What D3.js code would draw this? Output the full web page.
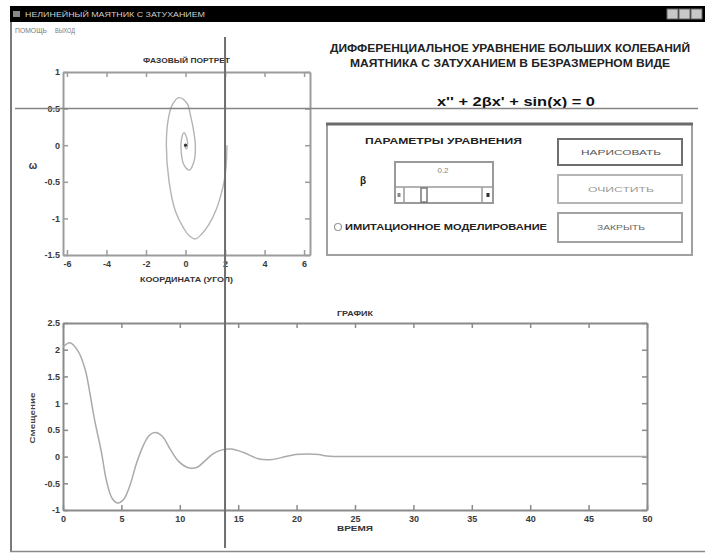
<!DOCTYPE html>
<html>
<head>
<meta charset="utf-8">
<script src="https://cdn.jsdelivr.net/npm/d3@7"></script>
<style>
	body { margin: 0; background: #fff; }
	svg { display: block; font-family: 'Liberation Sans', Arial, sans-serif; }
	.axis path, .axis line { stroke: #9c9c9c; }
	.axis path { stroke-width: 2; }
	.axis line { stroke-width: 1.5; }
	.axis text { font-size: 9px; font-weight: bold; fill: #3a3a3a; }
	.time .axis path, .time .axis line { stroke: #8a8a8a; }
</style>
</head>
<body>
<script>
// phase portrait (angle, angular velocity)
var phaseX = [2.1, 2.05, 1.95, 1.83, 1.58, 1.17, 0.8, 0.5, 0.2, -0.08, -0.5, -0.83, -0.97, -0.87, -0.67, -0.33, 0.08, 0.25, 0.42, 0.5, 0.42, 0.2, -0.08, -0.22, -0.2, -0.08, 0.06, 0.1, 0.04, -0.02, 0];
var phaseV = [0, -0.3, -0.5, -0.64, -0.86, -1.09, -1.22, -1.28, -1.24, -1.14, -0.91, -0.5, 0, 0.36, 0.55, 0.65, 0.57, 0.41, 0.18, -0.02, -0.23, -0.34, -0.27, -0.09, 0.09, 0.17, 0.1, 0, -0.05, -0.02, 0];

// displacement vs time
var timeT = [0, 0.6, 1.3, 1.9, 2.3, 2.7, 3.3, 3.7, 4.2, 4.7, 5.2, 5.7, 6.3, 6.9, 7.4, 7.9, 8.5, 9.2, 9.9, 10.6, 11.0, 11.5, 12.2, 12.9, 13.7, 14.4, 15.4, 16.7, 17.7, 18.7, 19.9, 21.0, 21.9, 22.6, 25, 30, 35, 40, 45, 50];
var timeX = [2.05, 2.13, 1.97, 1.63, 1.19, 0.69, 0.07, -0.43, -0.78, -0.87, -0.8, -0.56, -0.12, 0.22, 0.4, 0.45, 0.38, 0.13, -0.09, -0.2, -0.22, -0.2, -0.07, 0.06, 0.13, 0.14, 0.08, -0.04, -0.06, -0.02, 0.04, 0.05, 0.04, 0.01, 0, 0, 0, 0, 0, 0];

// tick labels
var phaseXTicks = [-6, -4, -2, 0, 2, 4, 6];
var phaseYTicks = [1, 0.5, 0, -0.5, -1, -1.5];
var timeXTicks = [0, 5, 10, 15, 20, 25, 30, 35, 40, 45, 50];
var timeYTicks = [2.5, 2, 1.5, 1, 0.5, 0, -0.5, -1];

// texts
var windowTitle = 'НЕЛИНЕЙНЫЙ МАЯТНИК С ЗАТУХАНИЕМ';
var menuItems = ['ПОМОЩЬ', 'ВЫХОД'];
var headLines = ['ДИФФЕРЕНЦИАЛЬНОЕ УРАВНЕНИЕ БОЛЬШИХ КОЛЕБАНИЙ', 'МАЯТНИКА С ЗАТУХАНИЕМ В БЕЗРАЗМЕРНОМ ВИДЕ'];
var equation = 'x\'\' + 2βx\' + sin(x) = 0';
var buttonLabels = ['НАРИСОВАТЬ', 'ОЧИСТИТЬ', 'ЗАКРЫТЬ'];
var betaValue = '0.2';

function PendulumWindow() {
	this.chart = {};
	this.props = {};
	this.props.width = 705;
	this.props.height = 553;
	this.props.phase = { left: 63, right: 310, top: 72, bottom: 255, xDomain: [-6.2, 6.3], yDomain: [-1.5, 1] };
	this.props.time = { left: 63, right: 647, top: 323, bottom: 510, xDomain: [0, 50], yDomain: [-1, 2.5] };
	this.props.tick = 5;
}

PendulumWindow.prototype.createChart = function() {
	this.chart.svg = d3.select('body')
		.append('svg')
			.attr('width', this.props.width)
			.attr('height', this.props.height);
	return this.chart;
}

// small helper for text that has to fill a given width
PendulumWindow.prototype.label = function(g, str, x, y, o) {
	o = o || {};
	var t = g.append('text')
		.attr('x', x)
		.attr('y', y)
		.attr('text-anchor', o.anchor || 'middle')
		.attr('dominant-baseline', 'central')
		.style('font-size', (o.size || 9) + 'px')
		.style('font-weight', o.weight || 'bold')
		.style('fill', o.fill || '#333')
		.text(str);
	if (o.width) {
		t.attr('textLength', o.width).attr('lengthAdjust', 'spacingAndGlyphs');
	}
	if (o.rotate) {
		t.attr('transform', 'rotate(-90,' + x + ',' + y + ')');
	}
	return t;
}

PendulumWindow.prototype.addFrame = function() {
	var svg = this.chart.svg;
	svg.append('rect').attr('x', 10).attr('y', 6).attr('width', 695).attr('height', 16).attr('fill', '#000');
	svg.append('rect').attr('x', 13).attr('y', 11).attr('width', 7).attr('height', 6).attr('fill', '#888');
	this.label(svg, windowTitle, 25, 14.5, { anchor: 'start', size: 8, weight: 'normal', fill: '#cfcfcf', width: 180 });
	[667, 679, 691].forEach(function(x) {
		svg.append('rect').attr('x', x).attr('y', 9).attr('width', 11).attr('height', 10).attr('fill', '#c8c8c8').attr('stroke', '#666');
	});
	svg.append('line').attr('x1', 11).attr('x2', 11).attr('y1', 22).attr('y2', 552).attr('stroke', '#7a7a7a').attr('stroke-width', 2);
	svg.append('line').attr('x1', 10).attr('x2', 705).attr('y1', 551.5).attr('y2', 551.5).attr('stroke', '#8a8a8a').attr('stroke-width', 1.5);
	this.label(svg, menuItems[0], 15, 30, { anchor: 'start', size: 7, weight: 'normal', fill: '#777', width: 32 });
	this.label(svg, menuItems[1], 55, 30, { anchor: 'start', size: 7, weight: 'normal', fill: '#777', width: 20 });
}

PendulumWindow.prototype.addAxes = function(g, box, xTicks, yTicks) {
	var fmt = function(d) { return String(d); };
	var x = d3.scaleLinear().domain(box.xDomain).range([box.left, box.right]);
	var y = d3.scaleLinear().domain(box.yDomain).range([box.bottom, box.top]);
	var t = this.props.tick;
	g.append('g').attr('class', 'axis').attr('transform', 'translate(0,' + box.bottom + ')')
		.call(d3.axisBottom(x).tickValues(xTicks).tickFormat(fmt).tickSizeInner(-t).tickSizeOuter(0).tickPadding(6));
	g.append('g').attr('class', 'axis').attr('transform', 'translate(0,' + box.top + ')')
		.call(d3.axisTop(x).tickValues(xTicks).tickFormat('').tickSizeInner(-t).tickSizeOuter(0));
	g.append('g').attr('class', 'axis').attr('transform', 'translate(' + box.left + ',0)')
		.call(d3.axisLeft(y).tickValues(yTicks).tickFormat(fmt).tickSizeInner(-t).tickSizeOuter(0).tickPadding(3));
	g.append('g').attr('class', 'axis').attr('transform', 'translate(' + box.right + ',0)')
		.call(d3.axisRight(y).tickValues(yTicks).tickFormat('').tickSizeInner(-t).tickSizeOuter(0));
	return { x: x, y: y };
}

PendulumWindow.prototype.addPhasePlot = function() {
	var g = this.chart.svg.append('g').attr('class', 'phase');
	var s = this.addAxes(g, this.props.phase, phaseXTicks, phaseYTicks);
	this.chart.phase = s;
	var line = d3.line()
		.x(function(d, i) { return s.x(phaseX[i]); })
		.y(function(d, i) { return s.y(phaseV[i]); })
		.curve(d3.curveCatmullRom);
	g.append('path')
		.attr('d', line(phaseX))
		.attr('fill', 'none')
		.attr('stroke', '#b4b4b4')
		.attr('stroke-width', 1.4);
	g.append('circle').attr('cx', s.x(0)).attr('cy', s.y(0)).attr('r', 1.6).attr('fill', '#333');
	this.label(g, 'ФАЗОВЫЙ ПОРТРЕТ', 186.5, 60, { size: 7, width: 87 });
	this.label(g, 'КООРДИНАТА (УГОЛ)', 186.5, 279, { size: 7, width: 93 });
	this.label(g, 'ω', 33, 165, { size: 10 });
}

PendulumWindow.prototype.addTimePlot = function() {
	var g = this.chart.svg.append('g').attr('class', 'time');
	var s = this.addAxes(g, this.props.time, timeXTicks, timeYTicks);
	var line = d3.line()
		.x(function(d, i) { return s.x(timeT[i]); })
		.y(function(d, i) { return s.y(timeX[i]); })
		.curve(d3.curveCatmullRom);
	g.append('path')
		.attr('d', line(timeT))
		.attr('fill', 'none')
		.attr('stroke', '#aaaaaa')
		.attr('stroke-width', 1.5);
	this.label(g, 'ГРАФИК', 355, 313, { size: 7, width: 36 });
	this.label(g, 'ВРЕМЯ', 355, 528, { size: 7, width: 36 });
	this.label(g, 'Смещение', 32, 418, { size: 8, width: 51, rotate: true, fill: '#444' });
}

PendulumWindow.prototype.addControls = function() {
	var that = this;
	var g = this.chart.svg.append('g').attr('class', 'controls');
	this.label(g, headLines[0], 510, 47.5, { size: 11, width: 360, fill: '#222' });
	this.label(g, headLines[1], 510, 63, { size: 11, width: 320, fill: '#222' });
	this.label(g, equation, 516, 101, { size: 13, width: 158, fill: '#111' });

	// parameter panel
	g.append('rect').attr('x', 327).attr('y', 124).attr('width', 365).attr('height', 131)
		.attr('fill', 'none').attr('stroke', '#a0a0a0').attr('stroke-width', 2);
	g.append('line').attr('x1', 326).attr('x2', 693).attr('y1', 124).attr('y2', 124).attr('stroke', '#6a6a6a').attr('stroke-width', 3);
	this.label(g, 'ПАРАМЕТРЫ УРАВНЕНИЯ', 443.5, 141, { size: 9, width: 157, fill: '#222' });
	this.label(g, 'β', 363, 180, { size: 10, fill: '#222' });

	// edit box + slider
	g.append('rect').attr('x', 395).attr('y', 162).attr('width', 98).attr('height', 41)
		.attr('fill', '#fff').attr('stroke', '#9a9a9a').attr('stroke-width', 2);
	g.append('line').attr('x1', 395).attr('x2', 493).attr('y1', 187).attr('y2', 187).attr('stroke', '#9a9a9a').attr('stroke-width', 1.5);
	this.label(g, betaValue, 443, 170, { size: 8, weight: 'normal', fill: '#888' });
	g.append('line').attr('x1', 404).attr('x2', 404).attr('y1', 187).attr('y2', 203).attr('stroke', '#9a9a9a').attr('stroke-width', 1.5);
	g.append('line').attr('x1', 482).attr('x2', 482).attr('y1', 187).attr('y2', 203).attr('stroke', '#9a9a9a').attr('stroke-width', 1.5);
	g.append('rect').attr('x', 421).attr('y', 188).attr('width', 6).attr('height', 14)
		.attr('fill', '#fff').attr('stroke', '#777').attr('stroke-width', 1.5);
	g.append('rect').attr('x', 397.5).attr('y', 193).attr('width', 3).attr('height', 4).attr('fill', '#888');
	g.append('rect').attr('x', 486.5).attr('y', 193).attr('width', 3).attr('height', 4).attr('fill', '#333');

	// radio button
	g.append('circle').attr('cx', 338).attr('cy', 227).attr('r', 3.5)
		.attr('fill', '#fff').attr('stroke', '#999').attr('stroke-width', 1.2);
	this.label(g, 'ИМИТАЦИОННОЕ МОДЕЛИРОВАНИЕ', 345, 227, { anchor: 'start', size: 9, width: 202, fill: '#222' });

	// push buttons
	var buttons = [
		{ y: 139, h: 26, stroke: '#6e6e6e', fill: '#555', w: 80 },
		{ y: 175, h: 28, stroke: '#b4b4b4', fill: '#999', w: 66 },
		{ y: 213, h: 29, stroke: '#a2a2a2', fill: '#666', w: 48 }
	];
	buttons.forEach(function(b, i) {
		g.append('rect').attr('x', 558).attr('y', b.y).attr('width', 124).attr('height', b.h)
			.attr('fill', '#fff').attr('stroke', b.stroke).attr('stroke-width', 2);
		that.label(g, buttonLabels[i], 621, b.y + b.h / 2, { size: 8, weight: 'normal', fill: b.fill, width: b.w });
	});
}

PendulumWindow.prototype.addCrosshair = function() {
	var s = this.chart.phase;
	var cx = s.x(2), cy = s.y(0.5);
	this.chart.svg.append('line')
		.attr('x1', 15).attr('x2', 698).attr('y1', cy).attr('y2', cy)
		.attr('stroke', '#858585').attr('stroke-width', 1.5);
	this.chart.svg.append('line')
		.attr('x1', cx).attr('x2', cx).attr('y1', 37).attr('y2', 548)
		.attr('stroke', '#6e6e6e').attr('stroke-width', 2);
}

var win = new PendulumWindow();
win.createChart();
win.addFrame();
win.addPhasePlot();
win.addTimePlot();
win.addControls();
win.addCrosshair();
</script>
</body>
</html>
